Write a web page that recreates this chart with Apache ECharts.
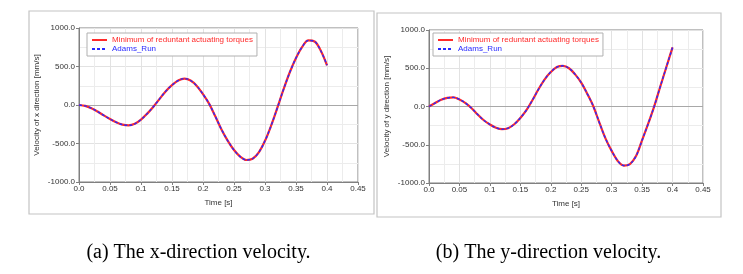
<!DOCTYPE html>
<html>
<head>
<meta charset="utf-8">
<script src="https://cdn.jsdelivr.net/npm/echarts@6/dist/echarts.min.js"></script>
<style>
html,body{margin:0;padding:0;background:#fff;}
#chart{width:743px;height:274px;}
</style>
</head>
<body>
<div id="chart"></div>
<script>
// ---- data ----
const timeS = [0.00,0.01,0.02,0.03,0.04,0.05,0.06,0.07,0.08,0.09,
               0.10,0.11,0.12,0.13,0.14,0.15,0.16,0.17,0.18,0.19,
               0.20,0.21,0.22,0.23,0.24,0.25,0.26,0.27,0.28,0.29,
               0.30,0.31,0.32,0.33,0.34,0.35,0.36,0.37,0.38,0.39,0.40];

const xVelMinTorque = [0,-12,-42,-85,-135,-182,-225,-255,-265,-245,
                       -190,-112,-22,80,180,258,318,343,318,248,
                       140,15,-150,-320,-465,-585,-670,-714,-698,-615,
                       -465,-265,-35,205,425,610,755,838,825,705,515];
const xVelAdams     = [0,-12,-42,-85,-135,-182,-225,-255,-265,-245,
                       -190,-112,-22,80,180,258,318,343,318,248,
                       140,15,-150,-320,-465,-585,-670,-714,-698,-615,
                       -465,-265,-35,205,425,610,755,838,825,705,515];

const yVelMinTorque = [0,45,88,113,119,92,45,-22,-105,-180,
                       -235,-278,-297,-283,-232,-150,-48,85,228,355,
                       450,515,532,500,420,312,165,0,-215,-420,
                       -580,-712,-772,-752,-648,-440,-225,5,265,520,772];
const yVelAdams     = [0,45,88,113,119,92,45,-22,-105,-180,
                       -235,-278,-297,-283,-232,-150,-48,85,228,355,
                       450,515,532,500,420,312,165,0,-215,-420,
                       -580,-712,-772,-752,-648,-440,-225,5,265,520,772];

const seriesNames = ['Minimum of reduntant actuating torques', 'Adams_Run'];
const yAxisNames = ['Velocity of x direction [mm/s]', 'Velocity of y direction [mm/s]'];
const xAxisName = 'Time [s]';
const captions = ['(a) The x-direction velocity.', '(b) The y-direction velocity.'];
const xTicks = {min: 0, max: 0.45, interval: 0.05};
const yTicks = {min: -1000, max: 1000, interval: 500};

// ---- chart ----
const FONT = '"Liberation Sans", Arial, sans-serif';
const pair = arr => timeS.map((t, i) => [t, arr[i]]);

const grids = [
  {left: 79, top: 28, width: 279, height: 154},
  {left: 429, top: 30, width: 274, height: 153}
];

function xAxisCfg(idx) {
  return {
    type: 'value', gridIndex: idx,
    min: xTicks.min, max: xTicks.max, interval: xTicks.interval,
    name: xAxisName, nameLocation: 'middle', nameGap: 17,
    nameTextStyle: {fontFamily: FONT, fontSize: 8, color: '#333'},
    axisLine: {show: true, onZero: false, lineStyle: {color: '#808080'}},
    axisTick: {show: true, length: 3, lineStyle: {color: '#808080'}},
    axisLabel: {fontFamily: FONT, fontSize: 8, color: '#333', margin: 3,
      formatter: v => v === 0 ? '0.0' : String(+v.toFixed(2))},
    splitLine: {show: true, lineStyle: {color: '#e2e2e2', width: 1}},
    minorTick: {show: false, splitNumber: 2},
    minorSplitLine: {show: true, lineStyle: {color: '#ececec', width: 1}}
  };
}
function yAxisCfg(idx) {
  return {
    type: 'value', gridIndex: idx,
    min: yTicks.min, max: yTicks.max, interval: yTicks.interval,
    name: yAxisNames[idx], nameLocation: 'middle', nameGap: 38,
    nameTextStyle: {fontFamily: FONT, fontSize: 8, color: '#333'},
    axisLine: {show: true, lineStyle: {color: '#808080'}},
    axisTick: {show: true, length: 3, lineStyle: {color: '#808080'}},
    axisLabel: {fontFamily: FONT, fontSize: 8, color: '#333', margin: 4,
      formatter: v => v.toFixed(1)},
    splitLine: {show: true, lineStyle: {color: '#e2e2e2', width: 1}},
    minorTick: {show: false, splitNumber: 2},
    minorSplitLine: {show: true, lineStyle: {color: '#ececec', width: 1}}
  };
}
function makeSeries(idx, redData, blueData) {
  return [
    {
      name: seriesNames[0], type: 'line', xAxisIndex: idx, yAxisIndex: idx,
      data: pair(redData), smooth: 0.35, showSymbol: false, symbol: 'none',
      lineStyle: {color: '#ff2a2a', width: 2.2}, itemStyle: {color: '#ff2a2a'},
      z: 3,
      markLine: {silent: true, symbol: 'none', label: {show: false},
        lineStyle: {color: '#a8a8a8', type: 'solid', width: 1},
        data: [{yAxis: 0}], z: 1}
    },
    {
      name: seriesNames[1], type: 'line', xAxisIndex: idx, yAxisIndex: idx,
      data: pair(blueData), smooth: 0.35, showSymbol: false, symbol: 'none',
      lineStyle: {color: '#2a2aff', width: 1.4, type: [3, 2]}, itemStyle: {color: '#2a2aff'},
      z: 4
    }
  ];
}
function legendCfg(left, top) {
  return {
    orient: 'vertical', left: left, top: top,
    backgroundColor: '#fff', borderColor: '#b0b0b0', borderWidth: 1,
    padding: [3, 4, 3, 4], itemGap: 1, itemWidth: 15, itemHeight: 8,
    itemStyle: {opacity: 0},
    textStyle: {fontFamily: FONT, fontSize: 8},
    data: [
      {name: seriesNames[0], textStyle: {color: '#ff2a2a'}},
      {name: seriesNames[1], textStyle: {color: '#2a2aff'}}
    ]
  };
}

const chart = echarts.init(document.getElementById('chart'), null, {renderer: 'canvas'});
chart.setOption({
  animation: false,
  backgroundColor: '#fff',
  grid: grids.map(g => Object.assign({show: true, borderColor: '#808080', borderWidth: 1, backgroundColor: '#fff'}, g)),
  xAxis: [xAxisCfg(0), xAxisCfg(1)],
  yAxis: [yAxisCfg(0), yAxisCfg(1)],
  legend: [legendCfg(87, 33), legendCfg(433, 33)],
  series: [].concat(makeSeries(0, xVelMinTorque, xVelAdams), makeSeries(1, yVelMinTorque, yVelAdams)),
  graphic: [
    {type: 'rect', shape: {x: 29, y: 11, width: 345, height: 203}, style: {fill: 'none', stroke: '#c4c4c4', lineWidth: 1.2}, z: -1},
    {type: 'rect', shape: {x: 377, y: 13, width: 344, height: 204}, style: {fill: 'none', stroke: '#c4c4c4', lineWidth: 1.2}, z: -1},
    {type: 'text', x: 198.5, y: 253, style: {text: captions[0], fontFamily: '"Liberation Serif", "Times New Roman", serif', fontSize: 20, fill: '#000', textAlign: 'center', textVerticalAlign: 'middle'}},
    {type: 'text', x: 548.5, y: 253, style: {text: captions[1], fontFamily: '"Liberation Serif", "Times New Roman", serif', fontSize: 20, fill: '#000', textAlign: 'center', textVerticalAlign: 'middle'}}
  ]
});
</script>
</body>
</html>
